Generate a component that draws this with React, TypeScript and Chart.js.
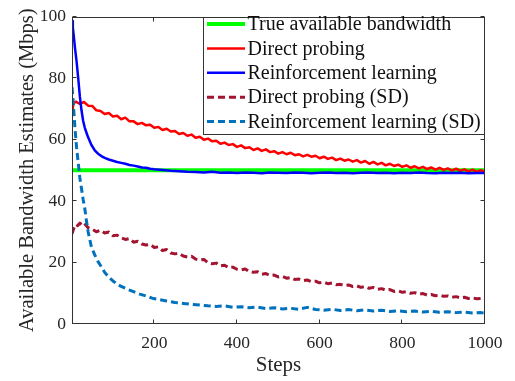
import React, { useEffect, useRef } from "react";
import { Chart, registerables } from "chart.js";

Chart.register(...registerables);

const FONT = '"Liberation Serif", "Times New Roman", Times, serif';
const AXIS = "#333333";

const xTicks = [200, 400, 600, 800, 1000];
const yTicks = [0, 20, 40, 60, 80, 100];

const seriesLabels = [
  "True available bandwidth",
  "Direct probing",
  "Reinforcement learning",
  "Direct probing (SD)",
  "Reinforcement learning (SD)",
];

const trueX = [1, 1000];
const trueY = [50, 50];

const dpX = [1, 3, 5, 10, 20, 30, 40, 50, 60, 70, 80, 90, 100, 110, 120, 130, 140, 150, 160, 170, 180, 190, 200, 210, 220, 230, 240, 250, 260, 270, 280, 290, 300, 310, 320, 330, 340, 350, 360, 370, 380, 390, 400, 410, 420, 430, 440, 450, 460, 470, 480, 490, 500, 510, 520, 530, 540, 550, 560, 570, 580, 590, 600, 610, 620, 630, 640, 650, 660, 670, 680, 690, 700, 710, 720, 730, 740, 750, 760, 770, 780, 790, 800, 810, 820, 830, 840, 850, 860, 870, 880, 890, 900, 910, 920, 930, 940, 950, 960, 970, 980, 990, 1000];
const dpY = [68.0, 70.5, 71.8, 72.3, 71.6, 72.2, 71.0, 70.9, 69.5, 69.3, 68.3, 68.6, 67.5, 67.7, 66.6, 67.1, 65.9, 65.9, 65.0, 65.4, 64.6, 64.8, 63.8, 64.1, 63.1, 63.5, 62.6, 62.8, 61.8, 62.1, 61.2, 61.6, 60.6, 60.9, 59.9, 60.3, 59.4, 59.6, 58.6, 59.0, 58.2, 58.5, 57.6, 58.1, 57.2, 57.5, 56.6, 57.1, 56.3, 56.8, 55.9, 56.2, 55.4, 55.9, 55.2, 55.7, 54.9, 55.2, 54.5, 55.0, 54.4, 54.7, 53.9, 54.4, 53.7, 54.1, 53.3, 53.8, 53.1, 53.5, 52.8, 53.3, 52.5, 53.0, 52.1, 52.7, 51.9, 52.4, 51.6, 52.1, 51.4, 51.8, 51.1, 51.6, 50.8, 51.3, 50.6, 51.1, 50.4, 50.9, 50.2, 50.8, 50.1, 50.6, 49.9, 50.5, 49.8, 50.3, 49.6, 50.2, 49.5, 50.0, 49.5];

const rlX = [1, 3, 5, 8, 12, 16, 20, 24, 28, 32, 36, 40, 48, 56, 64, 72, 80, 90, 100, 110, 120, 130, 140, 150, 160, 170, 180, 190, 200, 220, 240, 260, 280, 300, 320, 340, 360, 380, 400, 420, 440, 460, 480, 500, 520, 540, 560, 580, 600, 620, 640, 660, 680, 700, 720, 740, 760, 780, 800, 820, 840, 860, 880, 900, 920, 940, 960, 980, 1000];
const rlY = [98.5, 96.5, 94.0, 90.0, 85.5, 80.0, 74.0, 69.5, 66.0, 63.8, 62.2, 60.7, 58.2, 56.5, 55.4, 54.6, 54.0, 53.5, 53.1, 52.7, 52.4, 52.1, 51.7, 51.5, 51.2, 50.9, 50.8, 50.5, 50.3, 50.1, 49.8, 49.7, 49.5, 49.4, 49.3, 49.5, 49.2, 49.3, 49.1, 49.3, 49.2, 49.0, 49.3, 49.2, 49.1, 49.3, 49.2, 49.0, 49.2, 49.3, 49.1, 49.2, 49.0, 49.2, 49.3, 49.1, 49.2, 49.0, 49.2, 49.1, 49.3, 49.1, 49.0, 49.2, 49.1, 49.2, 49.0, 49.1, 49.1];

const dpSdX = [1, 5, 10, 15, 20, 25, 30, 40, 50, 60, 70, 80, 90, 100, 110, 120, 130, 140, 150, 160, 170, 180, 190, 200, 210, 220, 230, 240, 250, 260, 270, 280, 290, 300, 310, 320, 330, 340, 350, 360, 370, 380, 390, 400, 410, 420, 430, 440, 450, 460, 470, 480, 490, 500, 510, 520, 530, 540, 550, 560, 570, 580, 590, 600, 610, 620, 630, 640, 650, 660, 670, 680, 690, 700, 710, 720, 730, 740, 750, 760, 770, 780, 790, 800, 810, 820, 830, 840, 850, 860, 870, 880, 890, 900, 910, 920, 930, 940, 950, 960, 970, 980, 990, 1000];
const dpSdY = [29.3, 31.0, 32.4, 32.0, 32.8, 32.3, 32.9, 31.3, 30.8, 30.0, 30.5, 29.6, 29.9, 28.7, 28.9, 28.0, 27.5, 27.8, 26.6, 26.9, 26.0, 25.7, 25.9, 24.9, 25.1, 23.9, 24.2, 23.1, 22.8, 23.0, 22.1, 21.8, 22.0, 21.1, 20.8, 21.0, 19.9, 19.6, 19.8, 18.9, 19.1, 18.3, 18.5, 17.8, 17.6, 17.9, 17.0, 16.8, 17.0, 16.2, 16.4, 15.8, 15.9, 15.3, 15.5, 14.9, 15.1, 14.5, 14.6, 14.1, 14.3, 13.8, 13.9, 13.4, 13.6, 13.1, 13.3, 12.8, 12.9, 12.5, 12.7, 12.2, 12.4, 11.9, 12.2, 11.6, 11.9, 11.3, 11.5, 11.0, 11.2, 10.6, 10.8, 10.3, 10.5, 10.0, 10.2, 9.7, 9.9, 9.4, 9.6, 9.2, 9.4, 9.0, 9.1, 8.7, 8.9, 8.5, 8.7, 8.3, 8.5, 8.2, 8.3, 8.1];

const rlSdX = [1, 3, 5, 8, 12, 16, 20, 24, 28, 32, 36, 40, 44, 48, 56, 64, 72, 80, 90, 100, 110, 120, 135, 150, 165, 180, 195, 210, 230, 250, 270, 290, 310, 330, 350, 370, 390, 410, 430, 450, 470, 490, 510, 530, 550, 570, 590, 610, 630, 650, 670, 690, 710, 730, 750, 770, 790, 810, 830, 850, 870, 890, 910, 930, 950, 970, 990, 1000];
const rlSdY = [77.0, 74.0, 70.0, 64.0, 57.5, 52.5, 47.5, 44.0, 40.5, 37.5, 33.5, 30.0, 27.5, 25.0, 22.5, 20.3, 18.6, 16.8, 15.2, 14.0, 13.0, 12.2, 11.3, 10.5, 9.7, 9.1, 8.4, 8.0, 7.5, 7.0, 6.7, 6.4, 6.2, 5.9, 5.7, 5.9, 5.4, 5.6, 5.3, 5.5, 5.0, 5.3, 4.9, 5.1, 4.8, 5.4, 4.7, 4.5, 4.8, 4.4, 4.7, 4.3, 4.6, 4.2, 4.5, 4.1, 4.3, 4.0, 4.2, 3.9, 4.1, 3.8, 4.0, 3.7, 3.9, 3.6, 3.7, 3.5];

const colors = ["#00ff00", "#ff0000", "#0000ff", "#a2142f", "#0072bd"];
const widths = [4, 2.5, 2.5, 3, 3];
const dashes: number[][] = [[], [], [], [7, 4], [7, 4]];

const toPts = (xs: number[], ys: number[]) => xs.map((x, i) => ({ x, y: ys[i] }));

const boxTicksPlugin = {
  id: "boxTicks",
  afterDatasetsDraw(chart: any) {
    const { ctx, chartArea } = chart;
    const { left, right, top, bottom } = chartArea;
    const xs = chart.scales.x;
    const ys = chart.scales.y;
    ctx.save();
    ctx.strokeStyle = AXIS;
    ctx.lineWidth = 1;
    ctx.setLineDash([]);
    const L = Math.round(left) + 0.5;
    const R = Math.round(right) - 0.5;
    const T = Math.round(top) + 0.5;
    const B = Math.round(bottom) - 0.5;
    ctx.strokeRect(L, T, R - L, B - T);
    const tl = 4;
    ctx.beginPath();
    xTicks.forEach((v) => {
      const px = Math.round(xs.getPixelForValue(v)) - 0.5;
      ctx.moveTo(px, B);
      ctx.lineTo(px, B - tl);
      ctx.moveTo(px, T);
      ctx.lineTo(px, T + tl);
    });
    yTicks.forEach((v) => {
      const py = Math.round(ys.getPixelForValue(v)) - 0.5;
      ctx.moveTo(L, py);
      ctx.lineTo(L + tl, py);
      ctx.moveTo(R, py);
      ctx.lineTo(R - tl, py);
    });
    ctx.stroke();
    ctx.restore();
  },
};

const legendPlugin = {
  id: "boxLegend",
  afterDraw(chart: any) {
    const { ctx, chartArea } = chart;
    const right = Math.round(chartArea.right) - 0.5;
    const top = Math.round(chartArea.top) + 0.5;
    const boxLeft = 203.5;
    const boxBottom = 134.5;
    ctx.save();
    ctx.fillStyle = "#ffffff";
    ctx.fillRect(boxLeft, top, right - boxLeft, boxBottom - top);
    ctx.strokeStyle = AXIS;
    ctx.lineWidth = 1;
    ctx.setLineDash([]);
    ctx.strokeRect(boxLeft, top, right - boxLeft, boxBottom - top);
    const rowStart = 24;
    const rowGap = 24.4;
    ctx.font = `20px ${FONT}`;
    ctx.textBaseline = "middle";
    ctx.textAlign = "left";
    chart.data.datasets.forEach((ds: any, i: number) => {
      const y = rowStart + i * rowGap;
      ctx.strokeStyle = ds.borderColor;
      ctx.lineWidth = ds.borderWidth;
      ctx.setLineDash(ds.borderDash || []);
      ctx.beginPath();
      ctx.moveTo(207, y);
      ctx.lineTo(245, y);
      ctx.stroke();
      ctx.setLineDash([]);
      ctx.fillStyle = "#111111";
      ctx.fillText(ds.label, 247.5, y + 1);
    });
    ctx.restore();
  },
};

export default function App() {
  const ref = useRef<HTMLCanvasElement | null>(null);

  useEffect(() => {
    document.body.style.margin = "0";
    const canvas = ref.current;
    if (!canvas) return;
    const series = [
      toPts(trueX, trueY),
      toPts(dpX, dpY),
      toPts(rlX, rlY),
      toPts(dpSdX, dpSdY),
      toPts(rlSdX, rlSdY),
    ];
    const chart = new Chart(canvas, {
      type: "line",
      data: {
        datasets: series.map((d, i) => ({
          label: seriesLabels[i],
          data: d,
          borderColor: colors[i],
          backgroundColor: colors[i],
          borderWidth: widths[i],
          borderDash: dashes[i],
          pointRadius: 0,
          tension: 0,
          fill: false,
          order: 5 - i,
          borderCapStyle: "butt",
          borderJoinStyle: "round",
        })),
      },
      options: {
        responsive: false,
        animation: false,
        devicePixelRatio: 1,
        layout: { padding: { left: 0, top: 12, right: 30, bottom: 0 } },
        plugins: {
          legend: { display: false },
          tooltip: { enabled: false },
        },
        scales: {
          x: {
            type: "linear",
            min: 1,
            max: 1000,
            afterBuildTicks: (s: any) => {
              s.ticks = xTicks.map((v) => ({ value: v }));
            },
            afterFit: (s: any) => {
              s.height = 57;
            },
            grid: { display: false, drawTicks: false },
            border: { display: false },
            ticks: {
              font: { family: FONT, size: 17.5 },
              color: "#262626",
              padding: 9,
              maxRotation: 0,
              autoSkip: false,
              callback: (v: any) => String(v),
            },
            title: {
              display: true,
              text: "Steps",
              font: { family: FONT, size: 21 },
              color: "#262626",
              padding: { top: 0, bottom: 3 },
            },
          },
          y: {
            type: "linear",
            min: 0,
            max: 100,
            afterBuildTicks: (s: any) => {
              s.ticks = yTicks.map((v) => ({ value: v }));
            },
            afterFit: (s: any) => {
              s.width = 72;
            },
            grid: { display: false, drawTicks: false },
            border: { display: false },
            ticks: {
              font: { family: FONT, size: 17.5 },
              color: "#262626",
              padding: 6,
              callback: (v: any) => String(v),
            },
            title: {
              display: true,
              text: "Available Bandwidth Estimates (Mbps)",
              font: { family: FONT, size: 20.5 },
              color: "#262626",
              padding: { top: 15, bottom: 0 },
            },
          },
        },
      },
      plugins: [boxTicksPlugin, legendPlugin],
    });
    return () => chart.destroy();
  }, []);

  return (
    <div style={{ width: 515, height: 381, background: "#ffffff" }}>
      <canvas ref={ref} width={515} height={381} style={{ display: "block" }} />
    </div>
  );
}
